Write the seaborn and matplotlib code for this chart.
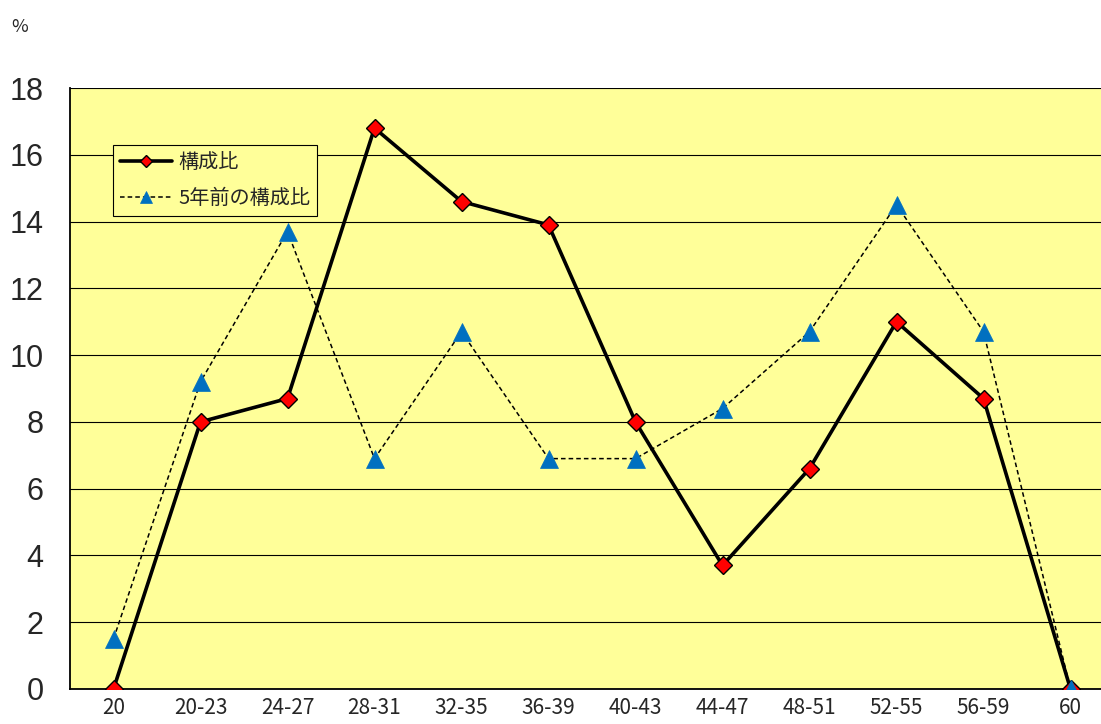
import numpy as np
import pandas as pd
import seaborn as sns
import matplotlib.pyplot as plt

# age groups and composition ratios (%)
categories = ["20", "20-23", "24-27", "28-31", "32-35", "36-39",
              "40-43", "44-47", "48-51", "52-55", "56-59", "60"]
ratio_now = [0.0, 8.0, 8.7, 16.8, 14.6, 13.9, 8.0, 3.7, 6.6, 11.0, 8.7, 0.0]
ratio_5y = [1.5, 9.2, 13.7, 6.9, 10.7, 6.9, 6.9, 8.4, 10.7, 14.5, 10.7, 0.0]
label_now = "構成比"
label_5y = "5年前の構成比"
y_ticks = [0, 2, 4, 6, 8, 10, 12, 14, 16, 18]

sns.set_style("white", {"axes.facecolor": "#FFFF99"})
plt.rcParams['font.family'] = ['Noto Sans CJK JP', 'DejaVu Sans']

df = pd.DataFrame({"age": categories, "now": ratio_now, "prev": ratio_5y})

fig = plt.figure(figsize=(11.01, 7.24), dpi=100)
ax = fig.add_axes([70/1101, 35/724, 1044/1101, 601/724])

sns.lineplot(data=df, x="age", y="now", ax=ax, color="black", linewidth=2.6,
             marker="D", markersize=9, markerfacecolor="red",
             markeredgecolor="black", markeredgewidth=1.0,
             label=label_now, sort=False, zorder=4)
sns.lineplot(data=df, x="age", y="prev", ax=ax, color="black", linewidth=1.1,
             linestyle=(0, (3, 2)), marker="^", markersize=13,
             markerfacecolor="#0070C0", markeredgecolor="#0070C0",
             markeredgewidth=0.5, label=label_5y, sort=False, zorder=5)

ax.set_xlim(-0.5, len(categories) - 0.5)
ax.set_ylim(0, 18)
ax.set_yticks(y_ticks)
ax.yaxis.grid(True, color="black", linewidth=0.8)
ax.set_axisbelow(True)
ax.tick_params(axis="y", length=0, pad=19)
for lab in ax.get_yticklabels():
    lab.set_fontfamily("Liberation Sans")
    lab.set_fontsize(22)

# tick marks between categories, labels at centers
ax.set_xticks(np.arange(0.5, len(categories) - 1, 1.0))
ax.set_xticklabels([])
ax.tick_params(axis="x", which="major", direction="in", length=6,
               width=0.9, color="black")
ax.set_xticks(range(len(categories)), minor=True)
ax.set_xticklabels(categories, minor=True, fontsize=15)
ax.tick_params(axis="x", which="minor", length=0, pad=6)

ax.set_xlabel("")
ax.set_ylabel("")
for s in ["top", "right"]:
    ax.spines[s].set_visible(False)
for s in ["left", "bottom"]:
    ax.spines[s].set_color("black")
    ax.spines[s].set_linewidth(1.3)

leg = ax.legend(loc="upper left", bbox_to_anchor=(0.041, 0.905),
                fontsize=14.5, frameon=True, fancybox=False,
                edgecolor="black", framealpha=1, markerscale=0.7,
                handlelength=2.6, borderpad=0.35, labelspacing=0.75,
                handletextpad=0.3, borderaxespad=0)
leg.get_frame().set_linewidth(0.8)

fig.text(20/1101, 1 - 27/724, "%", fontsize=13, ha="center", va="center")

fig.savefig("out.png", dpi=100)
